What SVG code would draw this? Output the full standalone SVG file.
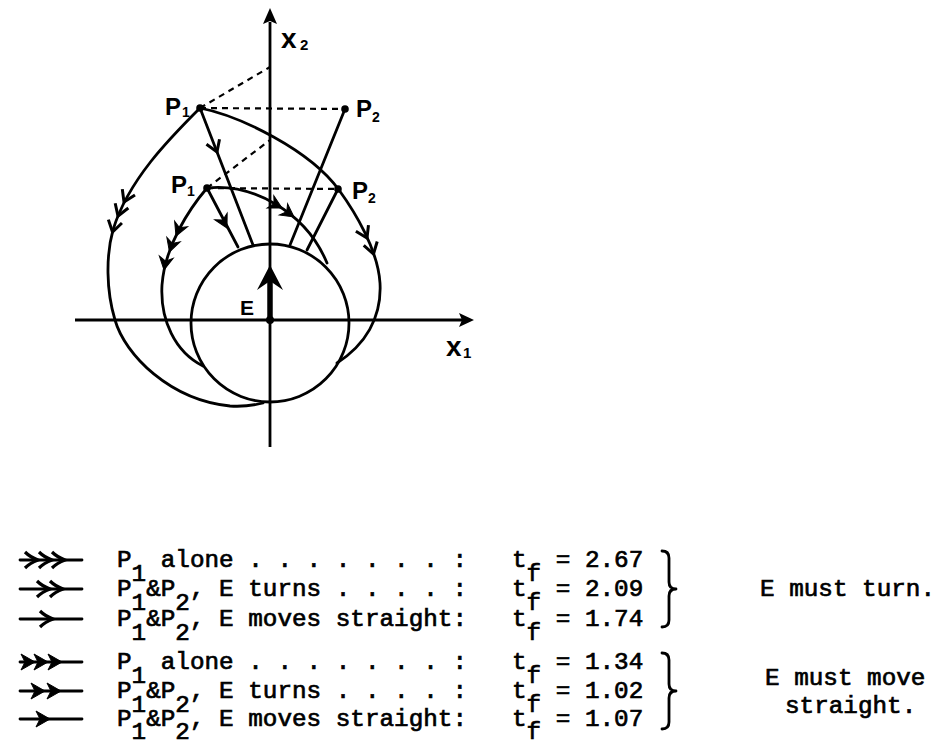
<svg xmlns="http://www.w3.org/2000/svg" width="948" height="747" viewBox="0 0 948 747">
<style>
.ln{stroke:#000;stroke-width:2.8;fill:none;stroke-linecap:round;stroke-linejoin:round}
.ax{stroke:#000;stroke-width:2.8;fill:none}
.dash{stroke:#000;stroke-width:2.2;fill:none;stroke-dasharray:6 5}
.lab{font-family:"Liberation Sans",Arial,sans-serif;font-weight:bold;fill:#000}
.mono{font-family:"Liberation Mono","Courier New",monospace;font-size:24.3px;fill:#000;stroke:#000;stroke-width:0.7}
.dot{fill:#000}
</style>
<defs>
<path id="ao" d="M-11,-7 L0,0 L-11,7" fill="none" stroke="#000" stroke-width="3" stroke-linejoin="miter"/>
<path id="af" d="M0,0 L-13,-7 L-9,0 L-13,7 Z" fill="#000" stroke="#000" stroke-width="1"/>
<path id="lo" d="M-13,-8 Q-8,-3 0,0 Q-8,3 -13,8" fill="none" stroke="#000" stroke-width="3.2"/>
<path id="lf" d="M0,0 L-14,-8 L-10,0 L-14,8 Z" fill="#000" stroke="#000" stroke-width="1"/>
</defs>

<g id="axes">
<line class="ax" x1="75" y1="320" x2="462" y2="320"/>
<path d="M474,320 L459,313 L462,320 L459,327 Z" fill="#000"/>
<line class="ax" x1="270" y1="447" x2="270" y2="22"/>
<path d="M270,8 L263,24 L270,21 L277,24 Z" fill="#000"/>
<text class="lab" x="281" y="48" font-size="28">x</text>
<text class="lab" x="300" y="50" font-size="15">2</text>
<text class="lab" x="446" y="356" font-size="28">x</text>
<text class="lab" x="463" y="358" font-size="15">1</text>
</g>

<g id="E">
<circle cx="270" cy="323" r="79" class="ln"/>
<line x1="270" y1="320" x2="270" y2="276" stroke="#000" stroke-width="5.5"/>
<path d="M270,265 L257,290 L270,281 L283,290 Z" fill="#000"/>
<circle cx="270" cy="320" r="4" class="dot"/>
<text class="lab" x="240" y="315" font-size="21">E</text>
</g>

<g id="connectors">
<line class="dash" x1="200" y1="108" x2="270" y2="67"/>
<line class="dash" x1="200" y1="108" x2="345" y2="109"/>
<line class="dash" x1="207" y1="188" x2="270" y2="140"/>
<line class="dash" x1="207" y1="188" x2="338" y2="189"/>
<path class="ln" d="M200,108 C170,138 128,180 113,230 C106,255 106,290 115,320 C125,355 170,400 230,406 C245,407 255,405 263,403"/>
<path class="ln" d="M200,108 C240,116 310,150 339,190 C355,212 378,250 380,283 C382,318 365,345 337,363"/>
<path class="ln" d="M207,188 C190,208 165,245 162,285 C160,320 175,352 203,366"/>
<path class="ln" d="M207,188 C250,183 305,210 327,263"/>
<line class="ln" x1="200" y1="108" x2="253" y2="245"/>
<line class="ln" x1="345" y1="109" x2="290" y2="245"/>
<line class="ln" x1="207" y1="188" x2="238" y2="247"/>
<line class="ln" x1="338" y1="189" x2="307" y2="250"/>
<use href="#ao" transform="translate(124,202) rotate(115)"/>
<use href="#ao" transform="translate(118,216) rotate(110)"/>
<use href="#ao" transform="translate(112.5,232) rotate(104)"/>
<use href="#af" transform="translate(176,236) rotate(113)"/>
<use href="#af" transform="translate(169.5,252) rotate(108)"/>
<use href="#af" transform="translate(164,270) rotate(100)"/>
<use href="#af" transform="translate(282,208) rotate(28)"/>
<use href="#af" transform="translate(294,217) rotate(36)"/>
<use href="#ao" transform="translate(367,238) rotate(64)"/>
<use href="#ao" transform="translate(373.5,254) rotate(74)"/>
<use href="#ao" transform="translate(217,152) rotate(68.6)"/>
<use href="#af" transform="translate(227,228) rotate(62.3)"/>
</g>

<g id="P1-upper">
<circle cx="200" cy="108" r="3.8" class="dot"/>
<text class="lab" x="165" y="115" font-size="24">P</text>
<text class="lab" x="182" y="117" font-size="14">1</text>
</g>
<g id="P2-upper">
<circle cx="345" cy="109" r="3.8" class="dot"/>
<text class="lab" x="356" y="117" font-size="24">P</text>
<text class="lab" x="372" y="122" font-size="14">2</text>
</g>
<g id="P1-lower">
<circle cx="207" cy="188" r="3.8" class="dot"/>
<text class="lab" x="171" y="193" font-size="24">P</text>
<text class="lab" x="187" y="196" font-size="14">1</text>
</g>
<g id="P2-lower">
<circle cx="338" cy="189" r="3.8" class="dot"/>
<text class="lab" x="352" y="199" font-size="24">P</text>
<text class="lab" x="368" y="203" font-size="14">2</text>
</g>

<g id="legend">
<g id="legend-symbols">
<line class="ln" x1="20" y1="560" x2="82" y2="560"/>
<use href="#lo" transform="translate(38,560)"/>
<use href="#lo" transform="translate(52,560)"/>
<use href="#lo" transform="translate(65,560)"/>
<line class="ln" x1="20" y1="589" x2="82" y2="589"/>
<use href="#lo" transform="translate(50,589)"/>
<use href="#lo" transform="translate(63,589)"/>
<line class="ln" x1="20" y1="619" x2="82" y2="619"/>
<use href="#lo" transform="translate(53,619)"/>
<line class="ln" x1="20" y1="662" x2="82" y2="662"/>
<use href="#lf" transform="translate(35,662)"/>
<use href="#lf" transform="translate(48,662)"/>
<use href="#lf" transform="translate(62,662)"/>
<line class="ln" x1="20" y1="691" x2="82" y2="691"/>
<use href="#lf" transform="translate(45,691)"/>
<use href="#lf" transform="translate(61,691)"/>
<line class="ln" x1="20" y1="719" x2="82" y2="719"/>
<use href="#lf" transform="translate(50,719)"/>
</g>
<g id="legend-text">
<text class="mono" x="117" y="567">P<tspan dy="14">1</tspan><tspan dy="-14"> alone . . . . . . . :</tspan></text>
<text class="mono" x="117" y="596">P<tspan dy="14">1</tspan><tspan dy="-14">&amp;P</tspan><tspan dy="14">2</tspan><tspan dy="-14">, E turns . . . . :</tspan></text>
<text class="mono" x="117" y="626">P<tspan dy="14">1</tspan><tspan dy="-14">&amp;P</tspan><tspan dy="14">2</tspan><tspan dy="-14">, E moves straight:</tspan></text>
<text class="mono" x="117" y="669">P<tspan dy="14">1</tspan><tspan dy="-14"> alone . . . . . . . :</tspan></text>
<text class="mono" x="117" y="698">P<tspan dy="14">1</tspan><tspan dy="-14">&amp;P</tspan><tspan dy="14">2</tspan><tspan dy="-14">, E turns . . . . :</tspan></text>
<text class="mono" x="117" y="726">P<tspan dy="13">1</tspan><tspan dy="-13">&amp;P</tspan><tspan dy="13">2</tspan><tspan dy="-13">, E moves straight:</tspan></text>
<text class="mono" x="512" y="567">t<tspan dy="14">f</tspan><tspan dy="-14"> = 2.67</tspan></text>
<text class="mono" x="512" y="596">t<tspan dy="14">f</tspan><tspan dy="-14"> = 2.09</tspan></text>
<text class="mono" x="512" y="626">t<tspan dy="14">f</tspan><tspan dy="-14"> = 1.74</tspan></text>
<text class="mono" x="512" y="669">t<tspan dy="14">f</tspan><tspan dy="-14"> = 1.34</tspan></text>
<text class="mono" x="512" y="698">t<tspan dy="14">f</tspan><tspan dy="-14"> = 1.02</tspan></text>
<text class="mono" x="512" y="726">t<tspan dy="13">f</tspan><tspan dy="-13"> = 1.07</tspan></text>
<path class="ln" stroke-width="2.2" d="M662,551 Q669,551 669,558 L669,582 Q669,589 676,589 Q669,589 669,596 L669,620 Q669,627 662,627"/>
<path class="ln" stroke-width="2.2" d="M662,653 Q669,653 669,660 L669,684 Q669,691 676,691 Q669,691 669,698 L669,722 Q669,729 662,729"/>
<text class="mono" x="760" y="596">E must turn.</text>
<text class="mono" x="765" y="685">E must move</text>
<text class="mono" x="785" y="713">straight.</text>
</g>
</g>
</svg>
